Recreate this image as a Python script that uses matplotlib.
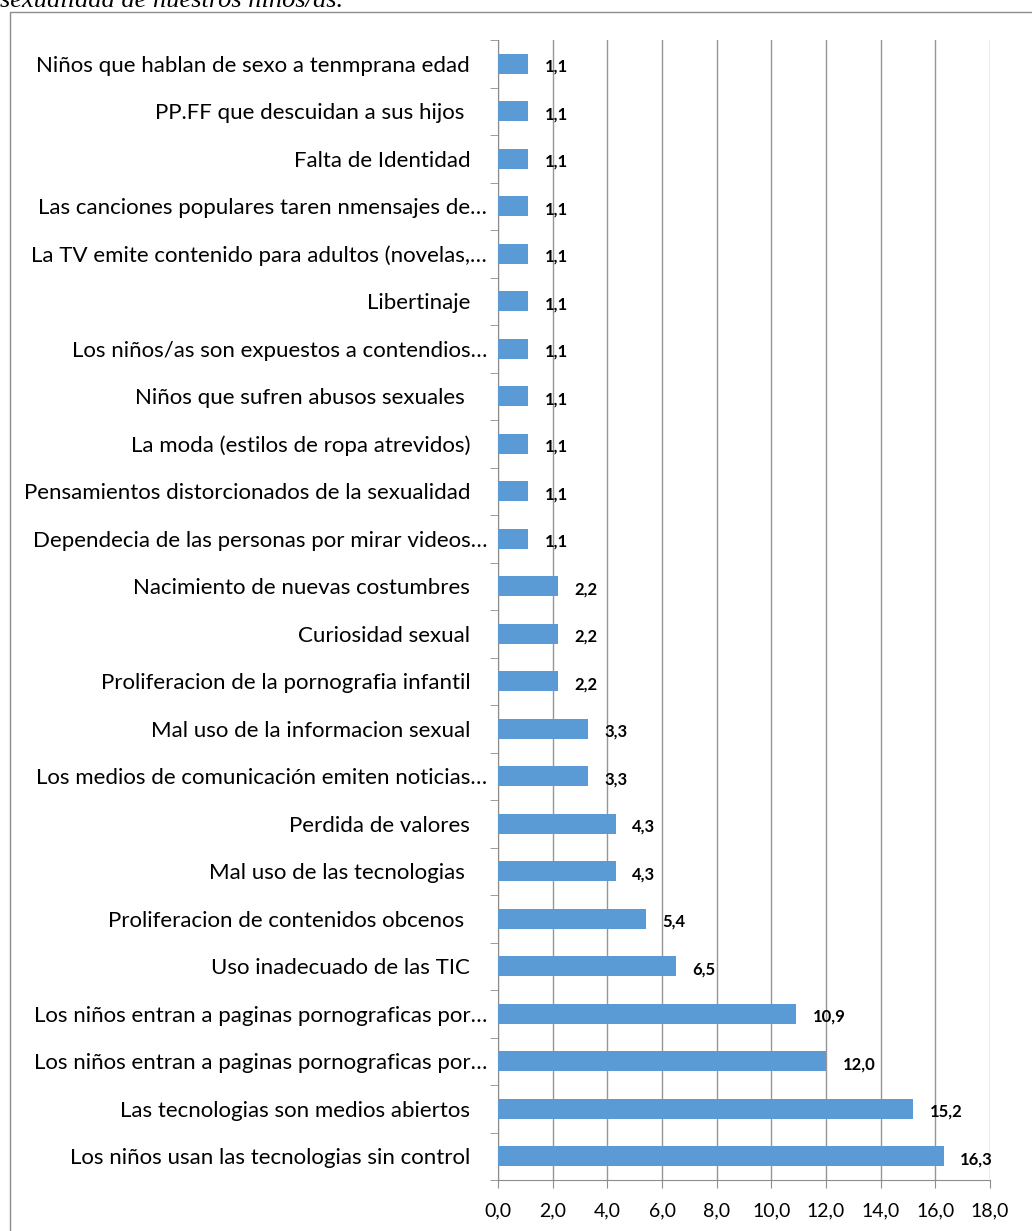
import matplotlib.pyplot as plt
import matplotlib.patches as mpatches
import matplotlib.transforms as mtransforms

plt.rcParams['font.family'] = ['Lato', 'DejaVu Sans']

# categorias de arriba hacia abajo
categorias = [
    "Niños que hablan de sexo a tenmprana edad",
    "PP.FF que descuidan a sus hijos ",
    "Falta de Identidad",
    "Las canciones populares taren nmensajes de…",
    "La TV emite contenido para adultos (novelas,…",
    "Libertinaje",
    "Los niños/as son expuestos a contendios…",
    "Niños que sufren abusos sexuales ",
    "La moda (estilos de ropa atrevidos)",
    "Pensamientos distorcionados de la sexualidad",
    "Dependecia de las personas por mirar videos…",
    "Nacimiento de nuevas costumbres",
    "Curiosidad sexual",
    "Proliferacion de la pornografia infantil",
    "Mal uso de la informacion sexual",
    "Los medios de comunicación emiten noticias…",
    "Perdida de valores",
    "Mal uso de las tecnologias ",
    "Proliferacion de contenidos obcenos ",
    "Uso inadecuado de las TIC",
    "Los niños entran a paginas pornograficas por…",
    "Los niños entran a paginas pornograficas por…",
    "Las tecnologias son medios abiertos",
    "Los niños usan las tecnologias sin control",
]
valores = [1.1] * 11 + [2.2, 2.2, 2.2, 3.3, 3.3, 4.3, 4.3, 5.4, 6.5, 10.9, 12.0, 15.2, 16.3]
xticks = [0, 2, 4, 6, 8, 10, 12, 14, 16, 18]

fig = plt.figure(figsize=(10.32, 12.31), dpi=100)

# marco del grafico y titulo cortado
fig.patches.append(mpatches.Rectangle((10 / 1032, -0.1), 1.2, 1.1 - 12 / 1231,
                                      transform=fig.transFigure, fill=False,
                                      edgecolor='#8c8c8c', linewidth=1.0))
fig.text(0.0, 1 - 7 / 1231, "sexualidad de nuestros niños/as.", family='Liberation Serif',
         style='italic', fontsize=19, va='baseline', ha='left')

ax = fig.add_axes([498 / 1032, 1 - 1180 / 1231, 492 / 1032, (1180 - 40) / 1231])

n = len(categorias)
pos = [n - 1 - i for i in range(n)]
ax.barh(pos, valores, height=0.42, color='#5B9BD5', zorder=3)

for p, v in zip(pos, valores):
    ax.annotate(f"{v:.1f}".replace('.', ','), (v, p), xytext=(12, -2),
                textcoords='offset points', ha='left', va='center',
                fontweight='bold', fontsize=12, zorder=4)

ax.set_ylim(-0.5, n - 0.5)
ax.set_xlim(0, 18)
ax.set_xticks(xticks)
ax.set_xticklabels([f"{t:.1f}".replace('.', ',') for t in xticks], fontsize=14)
ax.set_yticks(pos)
ax.set_yticklabels(categorias, fontsize=16)
ax.tick_params(axis='y', length=0, pad=20)
ax.set_yticks([k - 0.5 for k in range(n + 1)], minor=True)
ax.tick_params(axis='y', which='minor', length=6, color='#8c8c8c', direction='out')
ax.tick_params(axis='x', length=6, color='#8c8c8c', pad=10)

# las etiquetas truncadas (…) quedan mas cerca del eje, como en Excel
shift = mtransforms.ScaledTranslation(17 / 100, 0, fig.dpi_scale_trans)
for lbl in ax.get_yticklabels():
    if lbl.get_text().endswith('…'):
        lbl.set_transform(lbl.get_transform() + shift)

ax.grid(axis='x', color='#969696', linewidth=1.0, zorder=0)
for s in ['top', 'right']:
    ax.spines[s].set_visible(False)
for s in ['left', 'bottom']:
    ax.spines[s].set_color('#8c8c8c')

fig.savefig('out.png', dpi=100)
